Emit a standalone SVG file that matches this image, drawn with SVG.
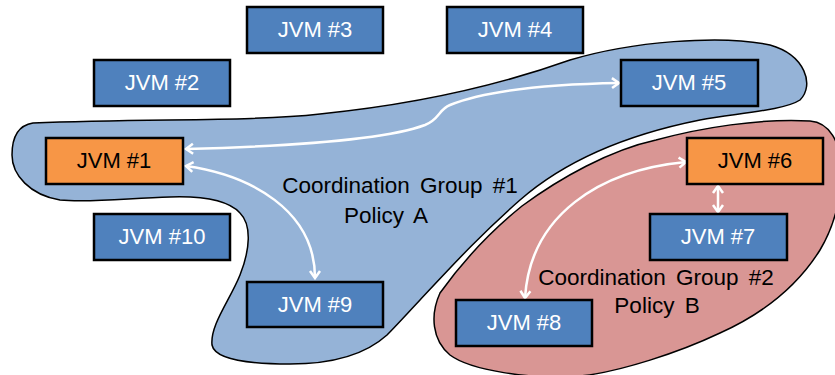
<svg xmlns="http://www.w3.org/2000/svg" width="835" height="375" viewBox="0 0 835 375">
<style>
.box{stroke:#000;stroke-width:2.5}
.blue{fill:#4F81BD}
.orange{fill:#F79646}
.lbl{font-family:"Liberation Sans",Arial,sans-serif;font-size:22px;text-anchor:middle}
.wt{fill:#fff}
.bk{fill:#000}
.grp{font-family:"Liberation Sans",Arial,sans-serif;font-size:22.5px;text-anchor:middle;fill:#000;word-spacing:4px}
.conn{fill:none;stroke:#fff;stroke-width:2.5}
</style>
<defs>
<marker id="ah" markerUnits="userSpaceOnUse" markerWidth="14" markerHeight="14" viewBox="0 0 14 14" refX="10" refY="7" orient="auto-start-reverse">
<path d="M3,2 L10,7 L3,12" fill="none" stroke="#fff" stroke-width="2.5"/>
</marker>
</defs>
<rect width="835" height="375" fill="#fff"/>
<g id="group1">
<path d="M33,123 C150,118 250,122 320,114 C420,104 500,85 570,60 C630,42 720,34 770,45 C805,55 815,85 800,100 C785,110 740,113 700,120 C620,136 560,165 520,200 C480,235 450,268 420,300 C405,316 395,327 387,335 C365,355 330,364 290,364 C250,364 215,360 212,345 C210,325 230,300 240,275 C250,250 252,225 240,213 C228,200 200,196 170,197 C130,198 90,203 60,200 C30,195 12,175 12,155 C12,135 20,125 33,123 Z" fill="#95B3D7" stroke="#000" stroke-width="1.5"/>
<text class="grp" x="400" y="193">Coordination Group #1</text>
<text class="grp" x="386" y="223">Policy A</text>
</g>
<g id="group2">
<path d="M440,293 C460,265 490,232 522,206 C560,178 610,150 656,140 C700,128 760,118 810,121 C850,124 850,200 820,250 C795,290 760,315 720,333 C680,352 620,372 580,376 C530,380 470,370 450,355 C432,340 430,315 440,293 Z" fill="#D99694" stroke="#000" stroke-width="1.5"/>
<text class="grp" x="656" y="285">Coordination Group #2</text>
<text class="grp" x="657" y="313">Policy B</text>
</g>
<g id="connectors">
<path class="conn" d="M186,149 C300,146 390,138 425,125 C440,119 438,110 450,105 C490,89 560,84 619,83" marker-start="url(#ah)" marker-end="url(#ah)"/>
<path class="conn" d="M186,166 C250,175 315,210 315,278" marker-start="url(#ah)" marker-end="url(#ah)"/>
<path class="conn" d="M686,162 C600,170 530,215 525,298" marker-start="url(#ah)" marker-end="url(#ah)"/>
<path class="conn" d="M718,186 L718,212" marker-start="url(#ah)" marker-end="url(#ah)"/>
</g>
<g id="jvm3"><rect class="box blue" x="247" y="7" width="136" height="46"/><text class="lbl wt" x="315" y="37">JVM #3</text></g>
<g id="jvm4"><rect class="box blue" x="447" y="7" width="136" height="46"/><text class="lbl wt" x="515" y="37">JVM #4</text></g>
<g id="jvm2"><rect class="box blue" x="94" y="60" width="136" height="46"/><text class="lbl wt" x="162" y="90">JVM #2</text></g>
<g id="jvm5"><rect class="box blue" x="621" y="60" width="137" height="46"/><text class="lbl wt" x="689" y="90">JVM #5</text></g>
<g id="jvm1"><rect class="box orange" x="46" y="138" width="137" height="46"/><text class="lbl bk" x="114" y="168">JVM #1</text></g>
<g id="jvm6"><rect class="box orange" x="687" y="138" width="136" height="46"/><text class="lbl bk" x="755" y="168">JVM #6</text></g>
<g id="jvm10"><rect class="box blue" x="94" y="214" width="136" height="46"/><text class="lbl wt" x="162" y="244">JVM #10</text></g>
<g id="jvm7"><rect class="box blue" x="650" y="214" width="137" height="46"/><text class="lbl wt" x="718" y="244">JVM #7</text></g>
<g id="jvm9"><rect class="box blue" x="247" y="282" width="136" height="45"/><text class="lbl wt" x="315" y="312">JVM #9</text></g>
<g id="jvm8"><rect class="box blue" x="456" y="300" width="136" height="46"/><text class="lbl wt" x="524" y="330">JVM #8</text></g>
</svg>
